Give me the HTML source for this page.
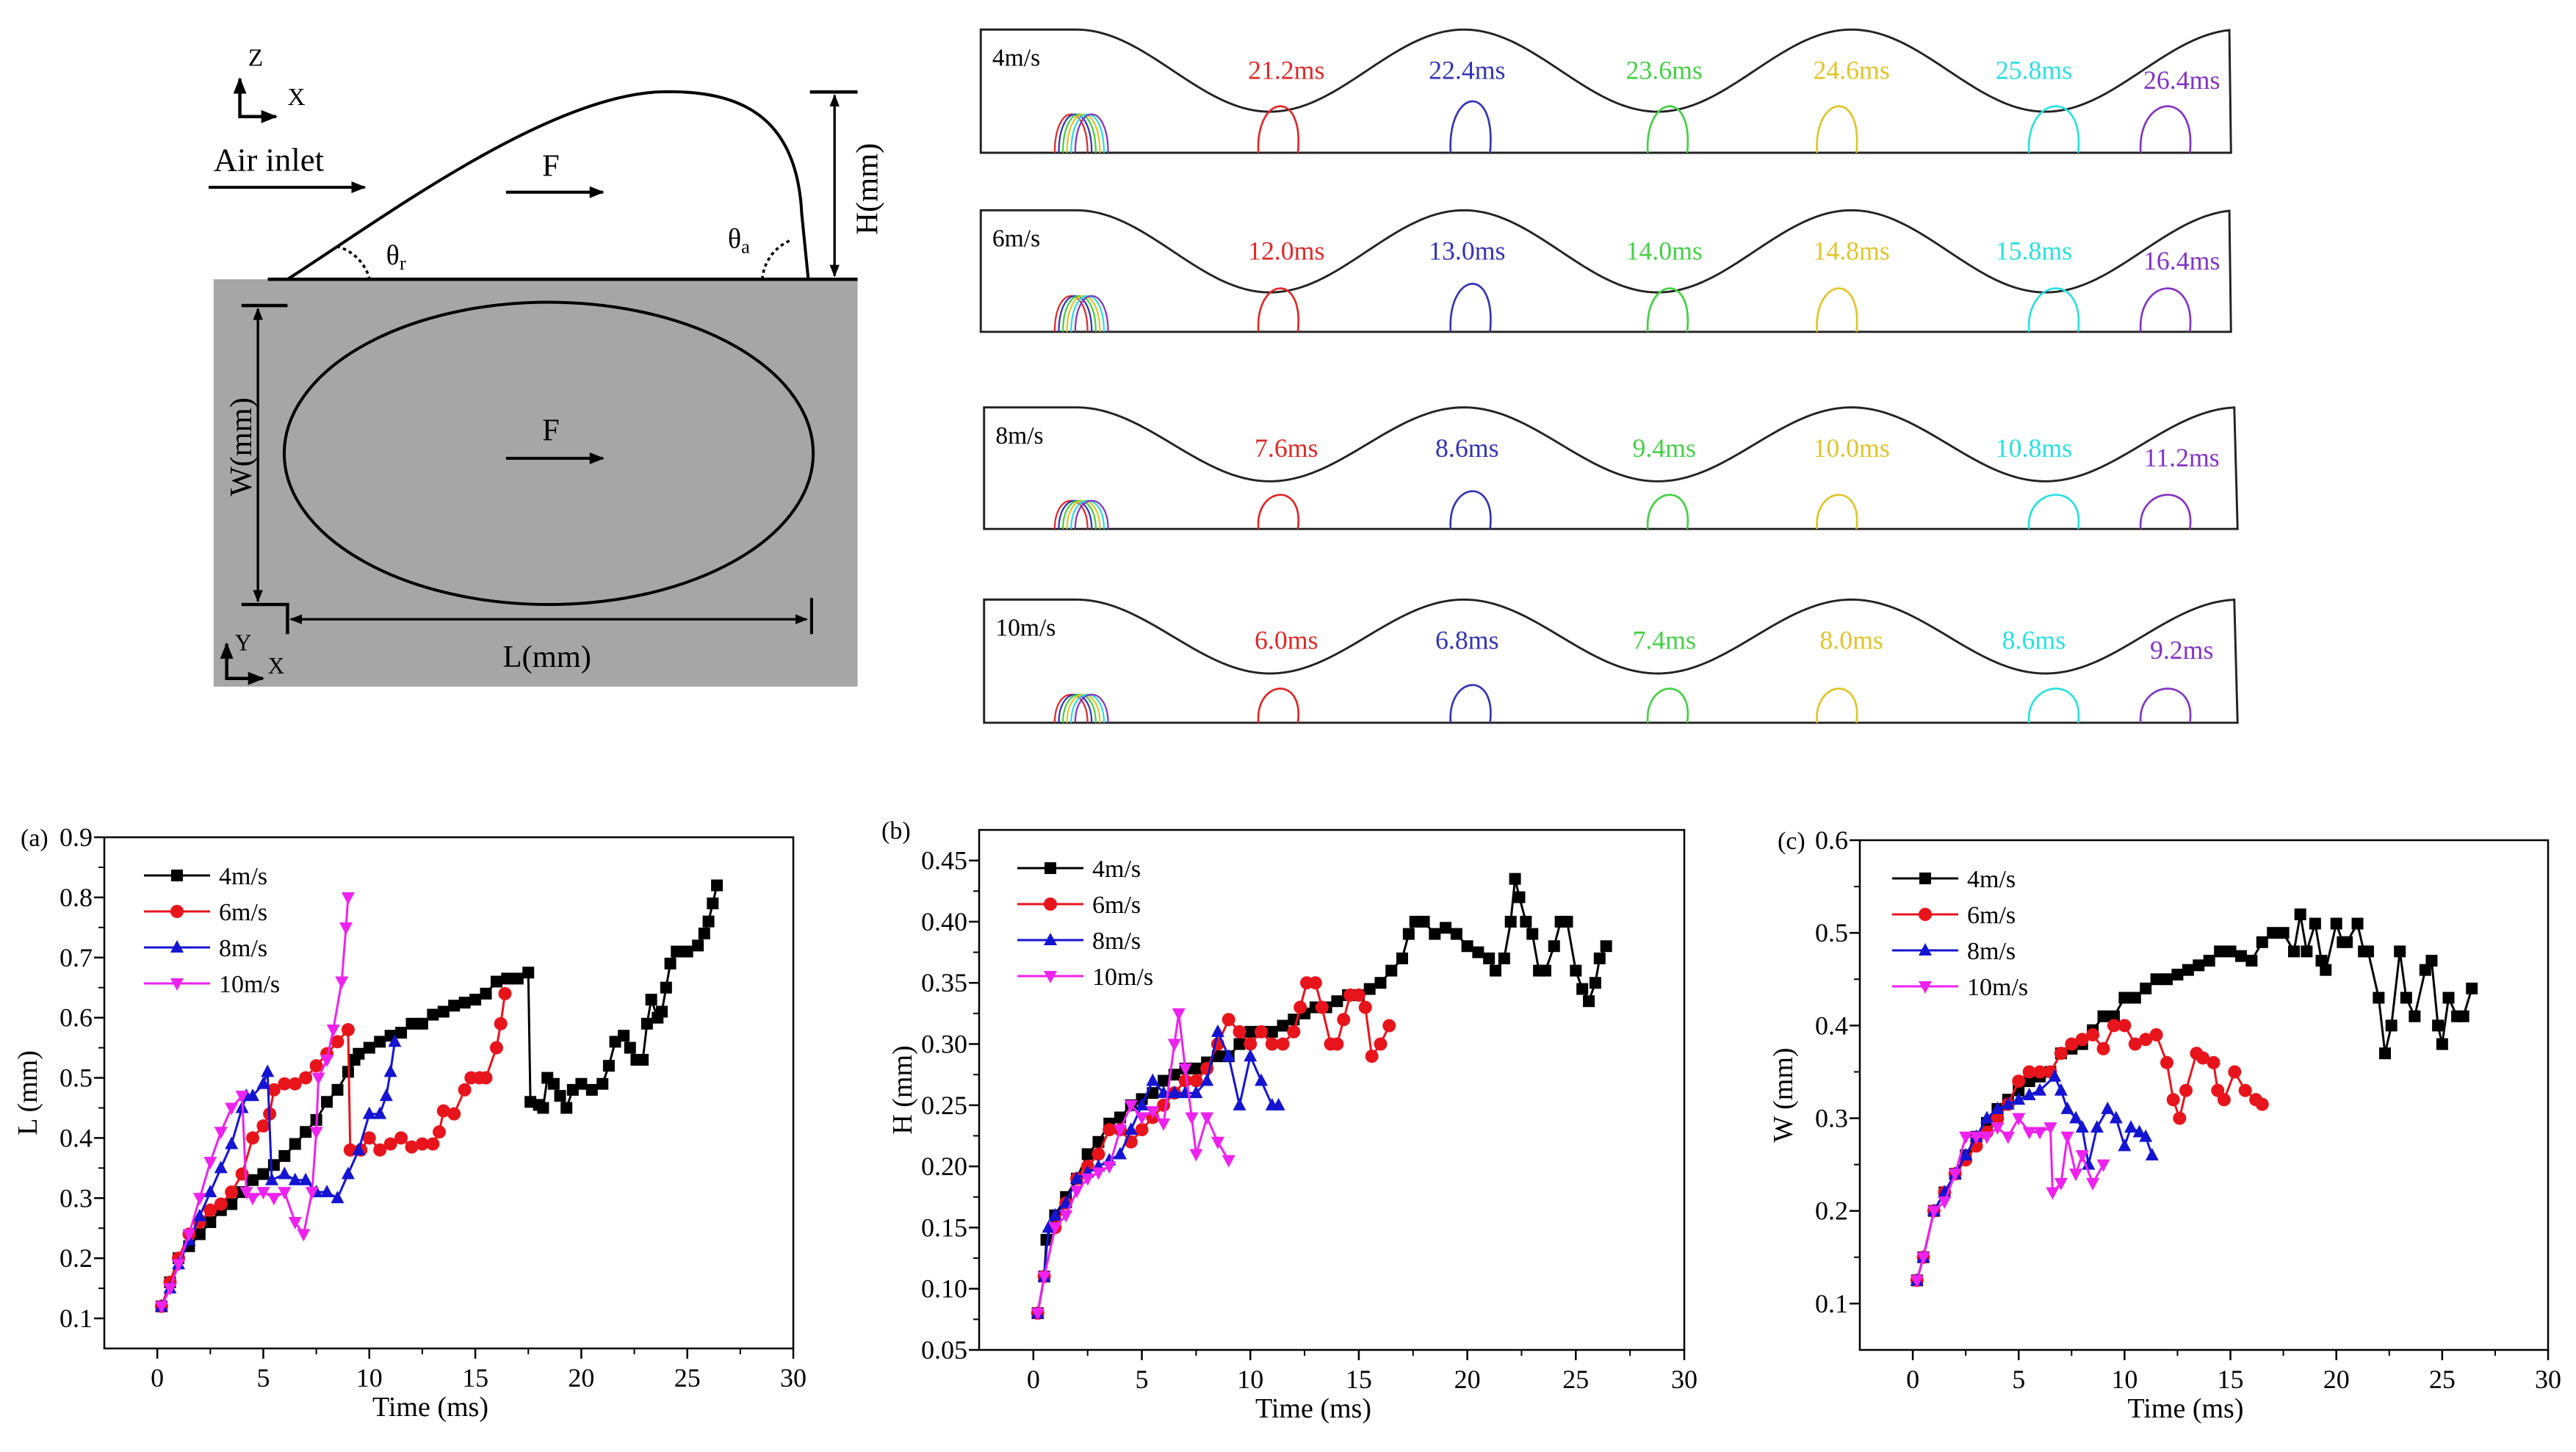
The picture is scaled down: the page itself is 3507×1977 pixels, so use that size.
<!DOCTYPE html>
<html><head><meta charset="utf-8">
<style>
html,body{margin:0;padding:0;background:#fff;}
svg, svg text{font-family:"Liberation Serif","DejaVu Serif",serif;}
</style></head>
<body>
<svg id="root" width="3507" height="1972" viewBox="0 0 3507 1972" xmlns="http://www.w3.org/2000/svg" font-family="Liberation Serif, DejaVu Serif, serif">
<defs>
<marker id="ah" viewBox="0 0 10 10" refX="9" refY="5" markerWidth="5" markerHeight="5" orient="auto-start-reverse"><path d="M0,1 L10,5 L0,9 z" fill="#000"/></marker>
</defs>
<g id="schem" transform="scale(2.2366)">
  <rect x="130" y="170" width="392" height="248" fill="#a6a6a6"/>
  <line x1="163" y1="170" x2="522" y2="170" stroke="#000" stroke-width="2"/>
  <path d="M175,170 C230,135 330,60 400,56 C450,54 485,70 488,130 L492,170" fill="none" stroke="#000" stroke-width="1.8"/>
  <path d="M205,150 A28,28 0 0 1 225,170" fill="none" stroke="#000" stroke-width="1.6" stroke-dasharray="2,2"/>
  <path d="M464,170 A28,28 0 0 1 482,146" fill="none" stroke="#000" stroke-width="1.6" stroke-dasharray="2,2"/>
  <text x="235" y="161" font-size="17">θ<tspan font-size="12" dy="3">r</tspan></text>
  <text x="443" y="151" font-size="17">θ<tspan font-size="12" dy="3">a</tspan></text>
  <line x1="493" y1="56" x2="522" y2="56" stroke="#000" stroke-width="2"/>
  <line x1="508" y1="58" x2="508" y2="168" stroke="#000" stroke-width="1.5" marker-start="url(#ah)" marker-end="url(#ah)"/>
  <text transform="translate(534,115) rotate(-90)" text-anchor="middle" font-size="19">H(mm)</text>
  <path d="M146,48 L146,71 L168,71" fill="none" stroke="#000" stroke-width="2" marker-start="url(#ah)" marker-end="url(#ah)"/>
  <text x="151" y="40" font-size="15">Z</text>
  <text x="175" y="64" font-size="15">X</text>
  <text x="130" y="104" font-size="20">Air inlet</text>
  <line x1="127" y1="114" x2="222" y2="114" stroke="#000" stroke-width="1.8" marker-end="url(#ah)"/>
  <text x="330" y="107" font-size="19">F</text>
  <line x1="308" y1="117" x2="367" y2="117" stroke="#000" stroke-width="1.8" marker-end="url(#ah)"/>
  <ellipse cx="334" cy="276" rx="161" ry="92" fill="none" stroke="#000" stroke-width="1.8"/>
  <text x="330" y="268" font-size="19">F</text>
  <line x1="308" y1="279" x2="367" y2="279" stroke="#000" stroke-width="1.8" marker-end="url(#ah)"/>
  <line x1="147" y1="186" x2="175" y2="186" stroke="#000" stroke-width="2"/>
  <line x1="157" y1="188" x2="157" y2="366" stroke="#000" stroke-width="1.5" marker-start="url(#ah)" marker-end="url(#ah)"/>
  <text transform="translate(153,272) rotate(-90)" text-anchor="middle" font-size="19">W(mm)</text>
  <path d="M147,368 L175,368 L175,386" fill="none" stroke="#000" stroke-width="2"/>
  <line x1="177" y1="377" x2="491" y2="377" stroke="#000" stroke-width="1.5" marker-start="url(#ah)" marker-end="url(#ah)"/>
  <line x1="494" y1="364" x2="494" y2="386" stroke="#000" stroke-width="1.8"/>
  <text x="333" y="406" text-anchor="middle" font-size="19">L(mm)</text>
  <path d="M138,392 L138,413 L160,413" fill="none" stroke="#000" stroke-width="2" marker-start="url(#ah)" marker-end="url(#ah)"/>
  <text x="143" y="396" font-size="14">Y</text>
  <text x="163" y="410" font-size="14">X</text>
</g>
<g id="panels" transform="scale(2.2366)"></g>
<g id="charts"></g>
</svg>
<script>
// ===== chart data =====
const seriesNames = ["4m/s","6m/s","8m/s","10m/s"];
// (a) L
const aT4 = [0.2,0.6,1,1.5,2,2.5,3,3.5,4,4.5,5,5.5,6,6.5,7,7.5,8,8.5,9,9.3,9.5,10,10.5,11,11.5,12,12.5,13,13.5,14,14.5,15,15.5,16,16.5,17,17.5,17.6,18,18.2,18.4,18.7,19,19.3,19.6,20,20.5,21,21.3,21.6,22,22.3,22.6,22.9,23.1,23.3,23.6,23.8,24,24.2,24.5,25,25.5,25.8,26,26.2,26.4];
const aV4 = [0.12,0.16,0.20,0.22,0.24,0.26,0.28,0.29,0.31,0.33,0.34,0.355,0.37,0.39,0.41,0.43,0.46,0.48,0.51,0.53,0.54,0.55,0.56,0.57,0.575,0.59,0.59,0.605,0.61,0.62,0.625,0.63,0.64,0.66,0.665,0.665,0.675,0.46,0.455,0.45,0.50,0.49,0.47,0.45,0.48,0.49,0.48,0.49,0.52,0.56,0.57,0.55,0.53,0.53,0.59,0.63,0.60,0.61,0.65,0.69,0.71,0.71,0.72,0.74,0.76,0.79,0.82];
const aT6 = [0.2,0.6,1,1.5,2,2.5,3,3.5,4,4.5,5,5.3,5.5,6,6.5,7,7.5,8,8.5,9,9.1,9.6,10,10.5,11,11.5,12,12.5,13,13.3,13.5,14,14.5,14.8,15.2,15.5,16,16.2,16.4];
const aV6 = [0.12,0.16,0.20,0.24,0.26,0.28,0.29,0.31,0.34,0.40,0.42,0.44,0.48,0.49,0.49,0.50,0.52,0.54,0.56,0.58,0.38,0.38,0.40,0.38,0.39,0.40,0.385,0.39,0.39,0.41,0.445,0.44,0.48,0.50,0.50,0.50,0.55,0.59,0.64];
const aT8 = [0.2,0.6,1,1.5,2,2.5,3,3.5,4,4.2,4.5,5,5.2,5.4,6,6.5,7,7.5,8,8.5,9,9.5,10,10.5,10.8,11,11.2];
const aV8 = [0.12,0.15,0.19,0.23,0.27,0.31,0.35,0.39,0.45,0.47,0.47,0.49,0.51,0.33,0.34,0.33,0.33,0.31,0.31,0.30,0.34,0.38,0.44,0.44,0.47,0.51,0.56];
const aT10 = [0.2,0.6,1,1.5,2,2.5,3,3.5,4,4.2,4.5,5,5.5,6,6.5,6.9,7.3,7.5,7.6,8,8.3,8.7,8.9,9.0];
const aV10 = [0.12,0.15,0.19,0.24,0.30,0.36,0.41,0.45,0.47,0.31,0.30,0.31,0.30,0.31,0.26,0.24,0.31,0.41,0.50,0.53,0.58,0.66,0.75,0.80];
// (b) H
const bT4 = [0.2,0.5,0.6,1,1.5,2,2.5,3,3.5,4,4.5,5,5.5,6,6.5,7,7.5,8,8.5,9,9.5,10,10.5,11,11.5,12,12.5,13,13.5,14,14.5,15,15.5,16,16.5,17,17.3,17.6,18,18.5,19,19.5,20,20.5,21,21.3,21.7,22,22.2,22.4,22.7,23,23.3,23.6,24,24.3,24.6,25,25.3,25.6,25.9,26.1,26.4];
const bV4 = [0.08,0.11,0.14,0.16,0.175,0.19,0.21,0.22,0.235,0.24,0.25,0.255,0.26,0.27,0.275,0.28,0.28,0.285,0.29,0.29,0.30,0.31,0.31,0.31,0.315,0.32,0.325,0.33,0.33,0.335,0.34,0.34,0.345,0.35,0.36,0.37,0.39,0.40,0.40,0.39,0.395,0.39,0.38,0.375,0.37,0.36,0.37,0.40,0.435,0.42,0.40,0.39,0.36,0.36,0.38,0.40,0.40,0.36,0.345,0.335,0.35,0.37,0.38];
const bT6 = [0.2,0.5,1,1.5,2,2.5,3,3.5,4,4.5,5,5.5,6,6.5,7,7.5,8,8.5,9,9.5,10,10.5,11,11.5,12,12.3,12.6,13,13.3,13.7,14,14.3,14.6,15,15.3,15.6,16,16.4];
const bV6 = [0.08,0.11,0.15,0.17,0.19,0.20,0.21,0.23,0.23,0.22,0.23,0.24,0.25,0.26,0.27,0.27,0.28,0.30,0.32,0.31,0.30,0.31,0.30,0.30,0.31,0.33,0.35,0.35,0.33,0.30,0.30,0.32,0.34,0.34,0.33,0.29,0.30,0.315];
const bT8 = [0.2,0.5,0.7,1,1.5,2,2.5,3,3.5,4,4.5,5,5.5,6,6.5,7,7.5,8,8.5,9,9.5,10,10.5,11,11.3];
const bV8 = [0.08,0.11,0.15,0.16,0.17,0.19,0.195,0.20,0.205,0.21,0.23,0.25,0.27,0.26,0.26,0.26,0.26,0.27,0.31,0.29,0.25,0.29,0.27,0.25,0.25];
const bT10 = [0.2,0.5,1,1.5,2,2.5,3,3.5,4,4.5,5,5.5,6,6.5,6.7,7,7.3,7.5,8,8.5,9];
const bV10 = [0.08,0.11,0.15,0.16,0.18,0.19,0.195,0.20,0.23,0.25,0.24,0.245,0.235,0.30,0.325,0.28,0.24,0.21,0.24,0.22,0.205];
// (c) W
const cT4 = [0.2,0.5,1,1.5,2,2.5,3,3.5,4,4.5,5,5.5,6,6.5,7,7.5,8,8.5,9,9.5,10,10.5,11,11.5,12,12.5,13,13.5,14,14.5,15,15.5,16,16.5,17,17.5,18,18.3,18.6,19,19.3,19.5,20,20.3,20.5,21,21.3,21.5,22,22.3,22.6,23,23.3,23.7,24.2,24.5,24.8,25,25.3,25.7,26,26.4];
const cV4 = [0.125,0.15,0.20,0.22,0.24,0.26,0.28,0.295,0.31,0.32,0.33,0.34,0.345,0.35,0.37,0.375,0.38,0.395,0.41,0.41,0.43,0.43,0.44,0.45,0.45,0.455,0.46,0.465,0.47,0.48,0.48,0.475,0.47,0.49,0.50,0.50,0.48,0.52,0.48,0.51,0.47,0.46,0.51,0.49,0.49,0.51,0.48,0.48,0.43,0.37,0.40,0.48,0.43,0.41,0.46,0.47,0.40,0.38,0.43,0.41,0.41,0.44];
const cT6 = [0.2,0.5,1,1.5,2,2.5,3,3.5,4,4.5,5,5.5,6,6.5,7,7.5,8,8.5,9,9.5,10,10.5,11,11.5,12,12.3,12.6,12.9,13.4,13.7,14.2,14.4,14.7,15.2,15.7,16.2,16.5];
const cV6 = [0.125,0.15,0.20,0.22,0.24,0.255,0.27,0.285,0.30,0.315,0.34,0.35,0.35,0.35,0.37,0.38,0.385,0.39,0.375,0.40,0.40,0.38,0.385,0.39,0.36,0.32,0.30,0.33,0.37,0.365,0.36,0.33,0.32,0.35,0.33,0.32,0.315];
const cT8 = [0.2,0.5,1,1.5,2,2.5,3,3.5,4,4.5,5,5.5,6,6.7,7,7.3,7.7,8,8.3,8.7,9.2,9.6,10,10.3,10.7,11,11.3];
const cV8 = [0.125,0.15,0.20,0.22,0.24,0.26,0.28,0.30,0.31,0.315,0.32,0.325,0.33,0.345,0.33,0.31,0.30,0.29,0.25,0.29,0.31,0.30,0.27,0.29,0.285,0.28,0.26];
const cT10 = [0.2,0.5,1,1.5,2,2.5,3,3.5,4,4.5,5,5.5,6,6.5,6.6,7,7.3,7.7,8,8.5,9];
const cV10 = [0.125,0.15,0.20,0.21,0.24,0.28,0.28,0.28,0.29,0.28,0.30,0.285,0.285,0.29,0.22,0.23,0.28,0.24,0.26,0.23,0.25];
const aYTicks = [0.1,0.2,0.3,0.4,0.5,0.6,0.7,0.8,0.9];
const bYTicks = [0.05,0.10,0.15,0.20,0.25,0.30,0.35,0.40,0.45];
const cYTicks = [0.1,0.2,0.3,0.4,0.5,0.6];
const xTicks = [0,5,10,15,20,25,30];

const NS = "http://www.w3.org/2000/svg";
const FONT = "Liberation Serif, DejaVu Serif, serif";
const colors = ["#000000","#e8141c","#1414d2","#ee22ee"];
function mk(tag, attrs, parent){
  const e = document.createElementNS(NS, tag);
  for (const k in attrs) e.setAttribute(k, attrs[k]);
  if (tag === "text") e.setAttribute("font-family", FONT);
  parent.appendChild(e); return e;
}
function marker(g, kind, x, y, col){
  const s = 8;
  let e;
  if (kind===0) e = mk("rect",{x:x-s,y:y-s,width:2*s,height:2*s,fill:col},g);
  else if (kind===1) e = mk("circle",{cx:x,cy:y,r:s+1,fill:col},g);
  else if (kind===2) e = mk("path",{d:`M${x},${y-s-2} L${x+s+1},${y+s-1} L${x-s-1},${y+s-1} Z`,fill:col},g);
  else e = mk("path",{d:`M${x},${y+s+2} L${x+s+1},${y-s+1} L${x-s-1},${y-s+1} Z`,fill:col},g);
  return e;
}
function chart(cfg){
  const root = document.getElementById("charts");
  const g = mk("g",{},root);
  
  
  const {L,R,T,B,xmin,xmax,ymin,ymax} = cfg;
  const sx = v => L + (v - xmin)/(xmax - xmin)*(R - L);
  const sy = v => B - (v - ymin)/(ymax - ymin)*(B - T);
  xTicks.forEach(t=>{
    const x = sx(t);
    const tk = mk("line",{x1:x,y1:B,x2:x,y2:B+14,stroke:"#000","stroke-width":2.5},g);
    
    
    const m = sx(t+2.5);
    if (t+2.5 < xmax) { const mt = mk("line",{x1:m,y1:B,x2:m,y2:B+8,stroke:"#000","stroke-width":2},g);
      
       }
    const lb = mk("text",{x:x,y:B+52,"text-anchor":"middle","font-size":36},g);
    
    
    lb.textContent = t;
  });
  const step = cfg.yt[1]-cfg.yt[0];
  cfg.yt.forEach(t=>{
    const y = sy(t);
    const tk = mk("line",{x1:L-14,y1:y,x2:L,y2:y,stroke:"#000","stroke-width":2.5},g);
    
    
    const mv = t + step/2;
    if (mv < ymax) { const mt = mk("line",{x1:L-8,y1:sy(mv),x2:L,y2:sy(mv),stroke:"#000","stroke-width":2},g);
      
       }
    const lb = mk("text",{x:L-16,y:y+12,"text-anchor":"end","font-size":36},g);
    
    
    lb.textContent = t.toFixed(cfg.dec);
  });
  const frame = mk("rect",{x:L,y:T,width:R-L,height:B-T,fill:"none",stroke:"#000","stroke-width":2.5},g);
  
  
  const pl = mk("text",{x:cfg.panelX,y:T+12,"font-size":34},g);
  
  
  pl.textContent = cfg.panel;
  const xt = mk("text",{x:(L+R)/2 - 25,y:B+92,"text-anchor":"middle","font-size":38},g);
  
  
  xt.textContent = "Time (ms)";
  const yt = mk("text",{transform:`translate(${L-92},${(T+B)/2}) rotate(-90)`,"text-anchor":"middle","font-size":38},g);
  
  
  yt.textContent = cfg.ylabel;
  cfg.series.forEach((s,i)=>{
    const sg = mk("g",{},g);
    
    
    const pts = s[0].map((t,j)=>sx(t).toFixed(1)+","+sy(s[1][j]).toFixed(1)).join(" ");
    const ln = mk("polyline",{points:pts,fill:"none",stroke:colors[i],"stroke-width":3},sg);
    
    
    s[0].forEach((t,j)=>{
      const m = marker(sg,i,sx(t),sy(s[1][j]),colors[i]);
      
      
    });
  });
  const lg = mk("g",{},g);
  
  
  seriesNames.forEach((n,i)=>{
    const y = T + 52 + i*49;
    const x0 = L + cfg.legDx;
    const le = mk("g",{},lg);
    
    
    mk("line",{x1:x0,y1:y,x2:x0+90,y2:y,stroke:colors[i],"stroke-width":3},le);
    marker(le,i,x0+45,y,colors[i]);
    const tx = mk("text",{x:x0+102,y:y+12,"font-size":34},le);
    tx.textContent = n;
  });
}
chart({name:"chart-a-length",L:142,R:1080,T:1140,B:1836,xmin:-2.5,xmax:30,ymin:0.05,ymax:0.9,yt:aYTicks,dec:1,ylabel:"L (mm)",panel:"(a)",panelX:28,legDx:54,
  series:[[aT4,aV4],[aT6,aV6],[aT8,aV8],[aT10,aV10]]});
chart({name:"chart-b-height",L:1333,R:2293,T:1130,B:1838,xmin:-2.5,xmax:30,ymin:0.05,ymax:0.475,yt:bYTicks,dec:2,ylabel:"H (mm)",panel:"(b)",panelX:1200,legDx:52,
  series:[[bT4,bV4],[bT6,bV6],[bT8,bV8],[bT10,bV10]]});
chart({name:"chart-c-width",L:2532,R:3469,T:1144,B:1838,xmin:-2.5,xmax:30,ymin:0.05,ymax:0.6,yt:cYTicks,dec:1,ylabel:"W (mm)",panel:"(c)",panelX:2420,legDx:44,
  series:[[cT4,cV4],[cT6,cV6],[cT8,cV8],[cT10,cV10]]});

// ===== snapshot panels =====
const panelSpeeds = ["4m/s","6m/s","8m/s","10m/s"];
const panelTimes = [["21.2ms","22.4ms","23.6ms","24.6ms","25.8ms","26.4ms"],["12.0ms","13.0ms","14.0ms","14.8ms","15.8ms","16.4ms"],["7.6ms","8.6ms","9.4ms","10.0ms","10.8ms","11.2ms"],["6.0ms","6.8ms","7.4ms","8.0ms","8.6ms","9.2ms"]];
const snapColors = ["#e02828","#3434b4","#44d044","#e0c428","#28e0e0","#8434c4"];
(function(){
  const pg = document.getElementById("panels");
  const tops=[18,128,248,365], bots=[93,202,322,440], amps=[50,50,45,45], x0s=[597,597,599,599], x1s=[1358,1358,1362,1362];
  const dropH=[30,28,22,22];
  const labX=[783,893,1013,1127,1238,1328];
  const dropX=[778,895,1015,1118,1250,1318];
  tops.forEach((T,p)=>{
    const g = mk("g",{},pg);
    
    
    const B=bots[p], A=amps[p], x0=x0s[p], x1=x1s[p];
    let d=`M${x0},${B} L${x0},${T} L655,${T}`;
    for(let x=655;x<=x1;x+=3){ const y=T+A*(1-Math.cos(2*Math.PI*(x-655)/236))/2; d+=` L${x},${y.toFixed(2)}`; }
    d+=` L${x1},${B} Z`;
    const w = mk("path",{d:d,fill:"none",stroke:"#222","stroke-width":1.3},g);
    
    
    const sl = mk("text",{x:x0+7,y:T+22,"font-size":15},g);
    
    
    sl.textContent = panelSpeeds[p];
    const h = dropH[p];
    for(let k=0;k<6;k++){
      const cx=652+k*2.5, rw=10, hh=h*0.8;
      const c = mk("path",{d:`M${cx-rw},${B} C${cx-rw},${B-hh*1.3} ${cx+rw},${B-hh*1.3} ${cx+rw},${B}`,fill:"none",stroke:snapColors[k],"stroke-width":1},g);
      
      
    }
    panelTimes[p].forEach((t,k)=>{
      const tl = mk("text",{x:labX[k],y:T+(k===5?36:30),"text-anchor":"middle","font-size":16,fill:snapColors[k]},g);
      
      
      tl.textContent = t;
      const cx=dropX[k], rw=k>=4?15:12, hh=h*(k===1?1.05:0.95);
      const dr = mk("path",{d:`M${cx-rw},${B} C${cx-rw-2},${B-hh*1.25} ${cx+rw+4},${B-hh*1.4} ${cx+rw},${B}`,fill:"none",stroke:snapColors[k],"stroke-width":1.2},g);
      
      
    });
  });
})();
</script>
</body></html>
